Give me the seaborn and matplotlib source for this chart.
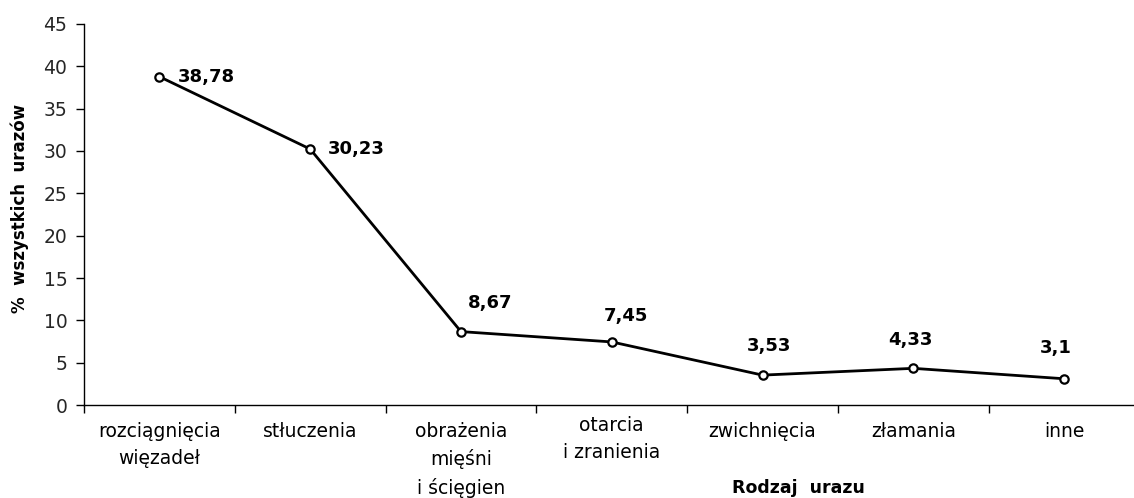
import matplotlib
matplotlib.use("Agg")
import matplotlib.pyplot as plt
from matplotlib.transforms import ScaledTranslation
import seaborn as sns
import numpy as np
import pandas as pd

categories = ["rozciągnięcia\nwięzadeł", "stłuczenia", "obrażenia\nmięśni\ni ścięgien",
              "otarcia\ni zranienia", "zwichnięcia", "złamania", "inne"]
values = [38.78, 30.23, 8.67, 7.45, 3.53, 4.33, 3.1]
value_labels = ["38,78", "30,23", "8,67", "7,45", "3,53", "4,33", "3,1"]
y_ticks = [0, 5, 10, 15, 20, 25, 30, 35, 40, 45]

sns.set_theme(style="white")
plt.rcParams["font.family"] = ["DejaVu Sans"]

W, H = 1134, 498
fig = plt.figure(figsize=(W / 100, H / 100), dpi=100)
ax = fig.add_axes([84 / W, (H - 405) / H, (1139.5 - 84) / W, 381 / H])

df = pd.DataFrame({"pos": np.arange(len(categories)), "val": values})
sns.lineplot(data=df, x="pos", y="val", ax=ax, color="black", linewidth=2,
             marker="o", markersize=6, markerfacecolor="white",
             markeredgecolor="black", markeredgewidth=1.6)

ax.set_xlim(-0.5, len(categories) - 0.5)
ax.set_ylim(0, 45)
ax.set_yticks(y_ticks)
ax.set_yticklabels([str(t) for t in y_ticks], fontsize=13.5)
ax.set_xticks(np.arange(len(categories)))
ax.set_xticklabels(categories, fontsize=13.5, linespacing=1.55, va="top")
ax.set_xticks(np.arange(len(categories)) - 0.5, minor=True)
ax.tick_params(axis="x", which="major", length=0, pad=12, colors="black")
ax.tick_params(axis="x", which="minor", length=6, width=1, direction="out",
               color="black", bottom=True)
ax.tick_params(axis="y", length=6, width=1, direction="out", color="black",
               left=True, pad=6)
ax.set_xlabel("")
ax.set_ylabel("")

for s in ["top", "right"]:
    ax.spines[s].set_visible(False)
for s in ["left", "bottom"]:
    ax.spines[s].set_color("black")
    ax.spines[s].set_linewidth(1)

# shift "otarcia" label up a bit
lbl = ax.get_xticklabels()[3]
lbl.set_transform(lbl.get_transform() + ScaledTranslation(0, 6 / 100, fig.dpi_scale_trans))

# data labels: offsets in pixels (dx, dy up), alignment
offsets = [(18, 0, "left", "center"), (18, 0, "left", "center"),
           (29, 29, "center", "center"), (14, 26, "center", "center"),
           (6, 29, "center", "center"), (-3, 28, "center", "center"),
           (-8, 31, "center", "center")]
for i, (v, t) in enumerate(zip(values, value_labels)):
    dx, dy, ha, va = offsets[i]
    ax.annotate(t, xy=(i, v), xytext=(dx * 0.72, dy * 0.72), textcoords="offset points",
                ha=ha, va=va, fontsize=13, fontweight="bold", color="black")

fig.text(20 / W, 1 - 208 / H, "%  wszystkich  urazów", rotation=90, ha="center",
         va="center", fontsize=12, fontweight="bold", color="black")
fig.text(798 / W, 1 - 488 / H, "Rodzaj  urazu", ha="center", va="center",
         fontsize=12.5, fontweight="bold", color="black")

fig.savefig("out.png", dpi=100, facecolor="white")
